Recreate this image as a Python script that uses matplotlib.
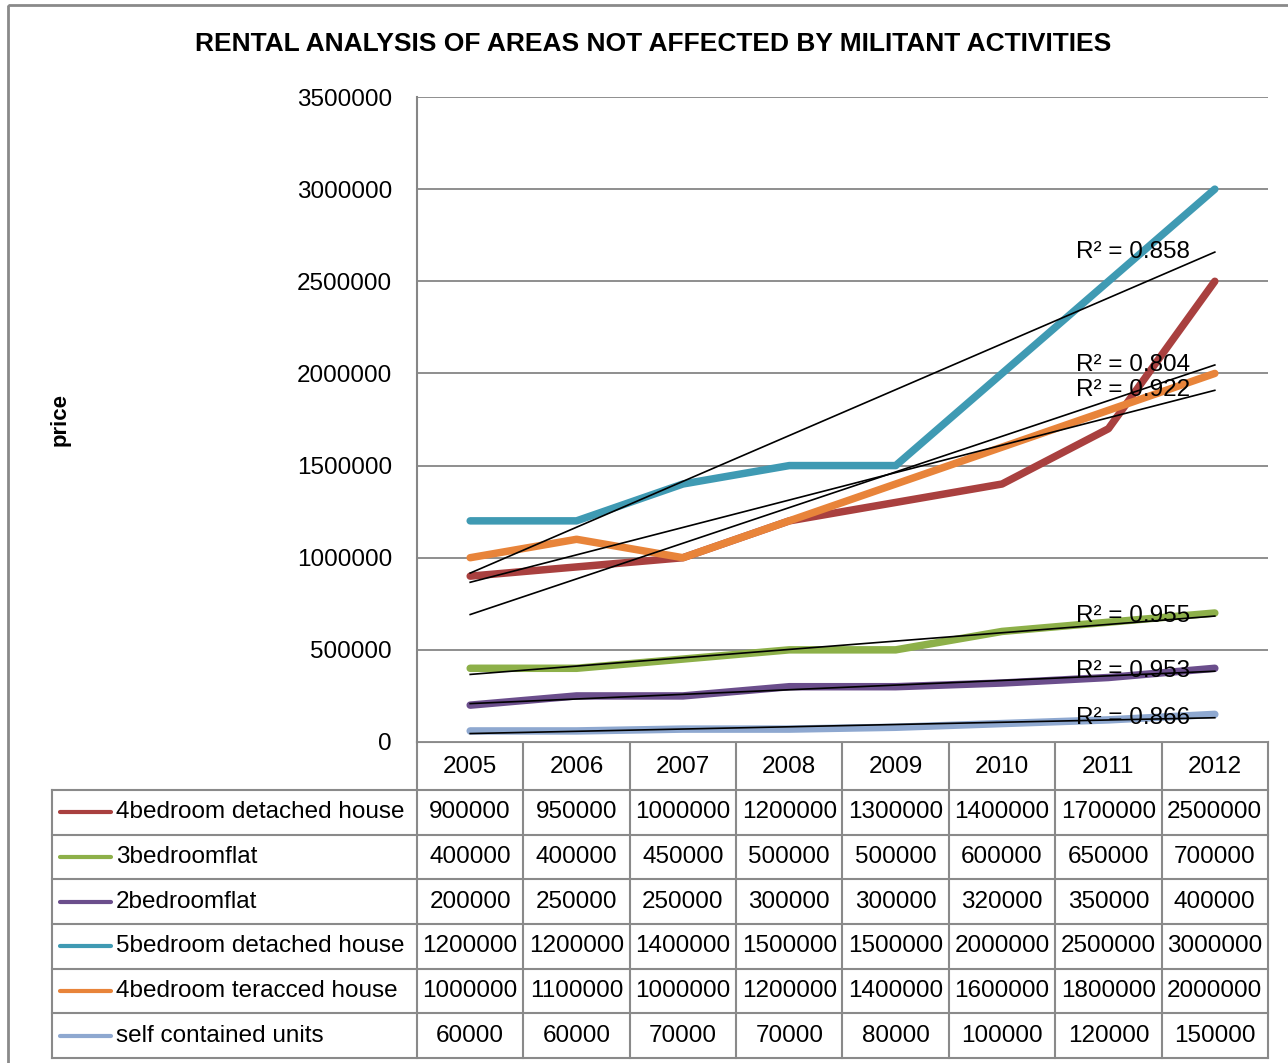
import matplotlib
matplotlib.use("Agg")  # headless
import matplotlib.pyplot as plt
import numpy as np
from matplotlib.patches import Rectangle

years = ["2005", "2006", "2007", "2008", "2009", "2010", "2011", "2012"]
series_names = ["4bedroom detached house", "3bedroomflat", "2bedroomflat",
                "5bedroom detached house", "4bedroom teracced house", "self contained units"]
detached_4bed = [900000, 950000, 1000000, 1200000, 1300000, 1400000, 1700000, 2500000]
flat_3bed = [400000, 400000, 450000, 500000, 500000, 600000, 650000, 700000]
flat_2bed = [200000, 250000, 250000, 300000, 300000, 320000, 350000, 400000]
detached_5bed = [1200000, 1200000, 1400000, 1500000, 1500000, 2000000, 2500000, 3000000]
terraced_4bed = [1000000, 1100000, 1000000, 1200000, 1400000, 1600000, 1800000, 2000000]
self_contained = [60000, 60000, 70000, 70000, 80000, 100000, 120000, 150000]
r2_labels = ["0.804", "0.955", "0.953", "0.858", "0.922", "0.866"]
yticks = [0, 500000, 1000000, 1500000, 2000000, 2500000, 3000000, 3500000]

series = [detached_4bed, flat_3bed, flat_2bed, detached_5bed, terraced_4bed, self_contained]
colors = ["#A9403F", "#8DB049", "#6B4E8C", "#3F9AB3", "#E8843A", "#8EA8D0"]

plt.rcParams["font.family"] = ["Liberation Sans", "DejaVu Sans"]
fs = 17.5

W, H = 1288, 1063
fig = plt.figure(figsize=(W / 100, H / 100), dpi=100)

# plot area in pixels
px_l, px_r, px_t, px_b = 417, 1268, 97, 742
ax = fig.add_axes([px_l / W, 1 - px_b / H, (px_r - px_l) / W, (px_b - px_t) / H])

x = np.arange(len(years))
grid_c = "#868686"
for i, (vals, c) in enumerate(zip(series, colors)):
    ax.plot(x, vals, color=c, lw=5.4, solid_capstyle="round", solid_joinstyle="round", zorder=3 + i * 0.1)

# linear trendlines with R² labels
for vals, lab in zip(series, r2_labels):
    k, b = np.polyfit(x, vals, 1)
    ax.plot(x, k * x + b, color="black", lw=1.2, zorder=5)
    ax.text(6.77, k * x[-1] + b, "R² = " + lab, ha="right", va="center", fontsize=fs, zorder=6)

ax.set_xlim(-0.5, len(years) - 0.5)
ax.set_ylim(0, 3500000)
ax.set_yticks(yticks)
ax.set_yticklabels([str(v) for v in yticks], fontsize=fs)
ax.tick_params(axis="y", length=0, pad=18)
ax.set_xticks([])
ax.yaxis.grid(True, color=grid_c, lw=1.3)
ax.set_axisbelow(True)
for s in ["top", "right", "bottom"]:
    ax.spines[s].set_visible(False)
ax.spines["left"].set_color(grid_c)
ax.spines["left"].set_linewidth(1.5)

# overlay in pixel coords for title, labels and data table
ov = fig.add_axes([0, 0, 1, 1], zorder=-1)
ov.set_xlim(0, W)
ov.set_ylim(H, 0)
ov.axis("off")

ov.add_patch(Rectangle((8, 5), W, H, fill=False, ec="#8a8a8a", lw=2))
ov.text(653, 44, "RENTAL ANALYSIS OF AREAS NOT AFFECTED BY MILITANT ACTIVITIES",
        ha="center", va="center", fontsize=19, fontweight="bold",
        family=["Liberation Sans Narrow", "Liberation Sans", "DejaVu Sans"])
ov.text(60, 420, "price", rotation=90, ha="center", va="center", fontsize=16, fontweight="bold")

# table
tab_l, head_b, tab_b = 52, 790, 1058
n = len(years)
cw = (px_r - px_l) / n
row_h = (tab_b - head_b) / len(series)
lc = "#8a8a8a"
ov.plot([px_l, px_r], [px_b, px_b], color=lc, lw=1.5)
for j in range(len(series) + 1):
    yy = head_b + j * row_h
    ov.plot([tab_l, px_r], [yy, yy], color=lc, lw=1.5)
ov.plot([tab_l, tab_l], [head_b, tab_b], color=lc, lw=1.5)
ov.plot([px_l, px_l], [px_b, tab_b], color=lc, lw=1.5)
for i in range(1, n + 1):
    xx = px_l + i * cw
    ov.plot([xx, xx], [px_b, tab_b], color=lc, lw=1.5)
for i, yr in enumerate(years):
    ov.text(px_l + (i + 0.5) * cw, (px_b + head_b) / 2 + 1, yr, ha="center", va="center", fontsize=fs)
for j, (name, vals, c) in enumerate(zip(series_names, series, colors)):
    yc = head_b + (j + 0.5) * row_h
    ov.plot([60, 111], [yc, yc], color=c, lw=3, solid_capstyle="round")
    ov.text(116, yc, name, ha="left", va="center", fontsize=fs)
    for i, v in enumerate(vals):
        ov.text(px_l + (i + 0.5) * cw, yc, str(v), ha="center", va="center", fontsize=fs)

fig.savefig("out.png", dpi=100)
